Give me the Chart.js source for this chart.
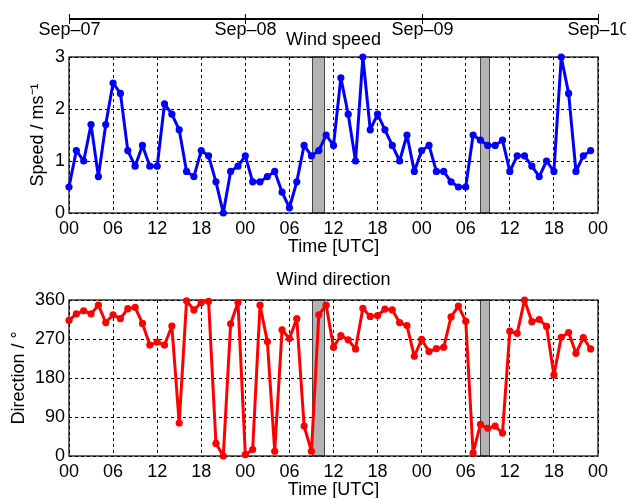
<!DOCTYPE html>
<html>
<head>
<meta charset="utf-8">
<script src="https://cdn.jsdelivr.net/npm/chart.js@4.4.1/dist/chart.umd.min.js"></script>
<style>
  html, body { margin: 0; padding: 0; background: #fff; overflow: hidden; }
  #wrap { position: relative; width: 626px; height: 498px; }
  .box { position: absolute; left: 0; width: 626px; }
  #speedBox { top: 0; height: 262px; }
  #dirBox { top: 262px; height: 250px; }
</style>
</head>
<body>
<div id="wrap">
  <div class="box" id="speedBox"><canvas id="speedChart"></canvas></div>
  <div class="box" id="dirBox"><canvas id="dirChart"></canvas></div>
</div>
<script>
// hourly values, 3 days starting Sep-07 00 UTC
const speed = [0.5, 1.2, 1.0, 1.7, 0.7, 1.7, 2.5, 2.3, 1.2, 0.9,
  1.3, 0.9, 0.9, 2.1, 1.9, 1.6, 0.8, 0.7, 1.2, 1.1,
  0.6, 0.0, 0.8, 0.9, 1.1, 0.6, 0.6, 0.7, 0.8, 0.4,
  0.1, 0.6, 1.3, 1.1, 1.2, 1.5, 1.3, 2.6, 1.9, 1.0,
  3.0, 1.6, 1.9, 1.6, 1.3, 1.0, 1.5, 0.8, 1.2, 1.3,
  0.8, 0.8, 0.6, 0.5, 0.5, 1.5, 1.4, 1.3, 1.3, 1.4,
  0.8, 1.1, 1.1, 0.9, 0.7, 1.0, 0.8, 3.0, 2.3, 0.8,
  1.1, 1.2];
const direction = [313, 328, 335, 328, 348, 308, 326, 317, 340, 343,
  306, 256, 263, 256, 300, 76, 358, 337, 354, 357,
  29, 0, 305, 354, 3, 15, 348, 264, 11, 291,
  271, 317, 69, 11, 326, 348, 251, 278, 268, 247,
  341, 322, 324, 339, 337, 308, 301, 230, 269, 241,
  248, 251, 321, 346, 311, 7, 73, 64, 69, 53,
  288, 283, 360, 310, 315, 299, 187, 274, 285, 237,
  273, 247];

// maintenance periods (hours since start)
const gapStart = [33.1, 56.0];
const gapEnd = [34.7, 57.2];

const hourLabels = ["00", "06", "12", "18", "00", "06", "12", "18", "00", "06", "12", "18", "00"];
const dateLabels = ["Sep\u201307", "Sep\u201308", "Sep\u201309", "Sep\u201310"];
const speedTicks = [0, 1, 2, 3];
const dirTicks = [0, 90, 180, 270, 360];

const FONT = "'Liberation Sans', Arial, Helvetica, sans-serif";
Chart.defaults.font.family = FONT;
Chart.defaults.color = "#000";

// gray bars + black box round the plot area
const framePlugin = {
  id: "frame",
  beforeDatasetsDraw(chart) {
    const { ctx, chartArea: a, scales: { x } } = chart;
    ctx.save();
    for (let i = 0; i < gapStart.length; i++) {
      const x0 = x.getPixelForValue(gapStart[i]);
      const x1 = x.getPixelForValue(gapEnd[i]);
      ctx.fillStyle = "#b3b3b3";
      ctx.fillRect(x0, a.top, x1 - x0, a.bottom - a.top);
      ctx.strokeStyle = "#444";
      ctx.lineWidth = 1;
      ctx.strokeRect(Math.round(x0) + 0.5, a.top, Math.round(x1 - x0), a.bottom - a.top);
    }
    ctx.strokeStyle = "#000";
    ctx.lineWidth = 1.2;
    ctx.strokeRect(a.left, a.top, a.right - a.left, a.bottom - a.top);
    ctx.restore();
  }
};

// panel title text, plus the date axis on the upper panel
const headPlugin = {
  id: "head",
  afterDraw(chart, args, opts) {
    const { ctx, chartArea: a, scales: { x } } = chart;
    ctx.save();
    ctx.fillStyle = "#000";
    ctx.font = "18px " + FONT;
    ctx.textAlign = "center";
    ctx.textBaseline = "alphabetic";
    ctx.fillText(opts.text, (a.left + a.right) / 2, opts.titleY);
    if (opts.dates) {
      const y = 19;
      ctx.strokeStyle = "#000";
      ctx.lineWidth = 2;
      ctx.beginPath();
      ctx.moveTo(x.getPixelForValue(0), y);
      ctx.lineTo(x.getPixelForValue(72), y);
      ctx.stroke();
      ctx.lineWidth = 1;
      dateLabels.forEach((lab, i) => {
        const px = Math.round(x.getPixelForValue(i * 24)) + 0.5;
        ctx.beginPath();
        ctx.moveTo(px, y - 5);
        ctx.lineTo(px, y + 5);
        ctx.stroke();
        ctx.fillText(lab, px, 35);
      });
    }
    ctx.restore();
  }
};

function panel(canvasId, values, color, yMax, yTicks, yTitle, opt) {
  return new Chart(document.getElementById(canvasId), {
    type: "line",
    data: {
      datasets: [{
        data: values.map((v, i) => ({ x: i, y: v })),
        borderColor: color,
        backgroundColor: color,
        borderWidth: 3,
        borderJoinStyle: "round",
        borderCapStyle: "round",
        pointRadius: 3.6,
        pointBorderWidth: 0,
        tension: 0,
        clip: false
      }]
    },
    options: {
      responsive: true,
      maintainAspectRatio: false,
      animation: false,
      devicePixelRatio: 1,
      layout: { padding: { left: 0, top: opt.top, right: 28, bottom: 0 } },
      plugins: {
        legend: { display: false },
        tooltip: { enabled: false },
        head: { text: opt.title, titleY: opt.titleY, dates: opt.dates }
      },
      scales: {
        x: {
          type: "linear",
          min: 0,
          max: 72,
          afterBuildTicks(scale) {
            scale.ticks = hourLabels.map((_, i) => ({ value: i * 6 }));
          },
          afterFit(scale) { scale.height = opt.xHeight; },
          ticks: {
            padding: 5,
            maxRotation: 0,
            autoSkip: false,
            font: { size: 18 },
            callback: (v, i) => hourLabels[i]
          },
          grid: { color: "#000", lineWidth: 1, drawTicks: false },
          border: { display: false, dash: [3, 3] },
          title: { display: true, text: "Time [UTC]", font: { size: 18 }, padding: { top: 0, bottom: opt.xTitlePad } }
        },
        y: {
          min: 0,
          max: yMax,
          afterBuildTicks(scale) {
            scale.ticks = yTicks.map(v => ({ value: v }));
          },
          afterFit(scale) { scale.width = 69; },
          ticks: { padding: 4, font: { size: 18 } },
          grid: { color: "#000", lineWidth: 1, drawTicks: false },
          border: { display: false, dash: [3, 3] },
          title: { display: true, text: yTitle, font: { size: 18 }, padding: { top: opt.yTitlePad, bottom: 0 } }
        }
      }
    },
    plugins: [framePlugin, headPlugin]
  });
}

panel("speedChart", speed, "#0000ff", 3, speedTicks, "Speed / ms\u207b\u00b9", {
  top: 57, xHeight: 49, xTitlePad: 4, yTitlePad: 27,
  title: "Wind speed", titleY: 45, dates: true
});

panel("dirChart", direction, "#ff0000", 360, dirTicks, "Direction / \u00b0", {
  top: 38, xHeight: 56, xTitlePad: 11, yTitlePad: 8,
  title: "Wind direction", titleY: 23, dates: false
});
</script>
</body>
</html>
